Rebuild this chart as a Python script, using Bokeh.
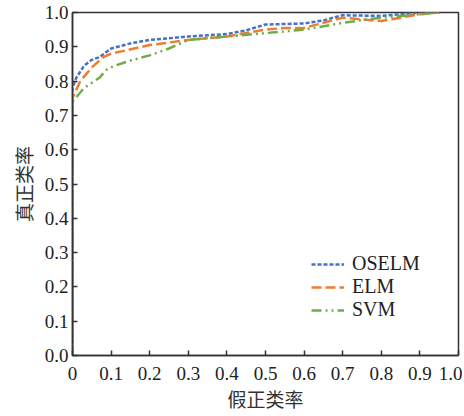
from bokeh.plotting import figure
from bokeh.models import Range1d, FixedTicker, Legend, LegendItem
from bokeh.embed import file_html
from bokeh.resources import INLINE

# Data
oselm_x = [0.0, 0.0, 0.01, 0.03, 0.05, 0.07, 0.1, 0.15, 0.2, 0.3, 0.4, 0.45, 0.5, 0.6, 0.65, 0.7, 0.8, 0.9, 0.95]
oselm_y = [0.0, 0.78, 0.81, 0.845, 0.862, 0.87, 0.895, 0.91, 0.92, 0.93, 0.937, 0.948, 0.965, 0.968, 0.977, 0.992, 0.99, 1.0, 1.0]

elm_x = [0.0, 0.0, 0.02, 0.05, 0.08, 0.1, 0.2, 0.3, 0.4, 0.5, 0.55, 0.6, 0.65, 0.7, 0.75, 0.8, 0.85, 0.9, 0.95]
elm_y = [0.0, 0.75, 0.80, 0.84, 0.87, 0.88, 0.905, 0.92, 0.93, 0.95, 0.955, 0.955, 0.97, 0.985, 0.98, 0.975, 0.985, 0.995, 1.0]

svm_x = [0.0, 0.0, 0.03, 0.07, 0.09, 0.11, 0.15, 0.2, 0.25, 0.3, 0.4, 0.5, 0.6, 0.7, 0.8, 0.9, 0.95]
svm_y = [0.0, 0.74, 0.78, 0.81, 0.835, 0.845, 0.86, 0.875, 0.895, 0.92, 0.93, 0.94, 0.95, 0.97, 0.985, 0.995, 1.0]

x_ticks = [0.0, 0.1, 0.2, 0.3, 0.4, 0.5, 0.6, 0.7, 0.8, 0.9, 1.0]
x_tick_labels = ["0", "0.1", "0.2", "0.3", "0.4", "0.5", "0.6", "0.7", "0.8", "0.9", "1.0"]
y_ticks = [0.0, 0.1, 0.2, 0.3, 0.4, 0.5, 0.6, 0.7, 0.8, 0.9, 1.0]
y_tick_labels = ["0.0", "0.1", "0.2", "0.3", "0.4", "0.5", "0.6", "0.7", "0.8", "0.9", "1.0"]

series_names = ["OSELM", "ELM", "SVM"]

p = figure(width=462, height=414, output_backend="svg", toolbar_location=None,
           x_range=Range1d(0, 1), y_range=Range1d(0, 1),
           min_border_left=72, min_border_right=4, min_border_top=12, min_border_bottom=4)

p.xgrid.visible = False
p.ygrid.visible = False
p.outline_line_color = "#333333"
p.outline_line_width = 1.5
p.background_fill_color = "white"
p.border_fill_color = "white"

r1 = p.line(oselm_x, oselm_y, line_color="#4472C4", line_width=2.5, line_dash="4 2")
r2 = p.line(elm_x, elm_y, line_color="#ED7D31", line_width=2.5, line_dash="10 4")
r3 = p.line(svm_x, svm_y, line_color="#70AD47", line_width=2.5, line_dash="10 4 2 4 2 4")

for ax, ticks, labels in ((p.xaxis[0], x_ticks, x_tick_labels), (p.yaxis[0], y_ticks, y_tick_labels)):
    ax.ticker = FixedTicker(ticks=ticks)
    ax.major_label_overrides = {t: l for t, l in zip(ticks, labels)}
    ax.minor_tick_line_color = None
    ax.major_tick_in = 5
    ax.major_tick_out = 0
    ax.axis_line_color = "#333333"
    ax.axis_line_width = 1.5
    ax.major_tick_line_color = "#333333"
    ax.major_tick_line_width = 1.5
    ax.major_label_text_font = "Liberation Serif"
    ax.major_label_text_font_size = "19px"
    ax.major_label_text_color = "#222222"
    ax.axis_label_text_font = "Noto Sans CJK SC"
    ax.axis_label_text_font_size = "19px"
    ax.axis_label_text_font_style = "normal"
    ax.axis_label_text_color = "#333333"

p.xaxis[0].axis_label = "假正类率"
p.yaxis[0].axis_label = "真正类率"
p.xaxis[0].major_label_standoff = 11
p.yaxis[0].major_label_standoff = 4
p.xaxis[0].axis_label_standoff = 2
p.yaxis[0].axis_label_standoff = 5

legend = Legend(items=[LegendItem(label=series_names[0], renderers=[r1]),
                       LegendItem(label=series_names[1], renderers=[r2]),
                       LegendItem(label=series_names[2], renderers=[r3])],
                location=(239, 34), border_line_color=None, background_fill_alpha=0,
                label_text_font="Liberation Serif", label_text_font_size="20px",
                label_text_color="#222222", glyph_width=33, glyph_height=14,
                spacing=0, padding=4, label_standoff=8, margin=0)
p.add_layout(legend)

open("out.html", "w").write(file_html(p, INLINE))
